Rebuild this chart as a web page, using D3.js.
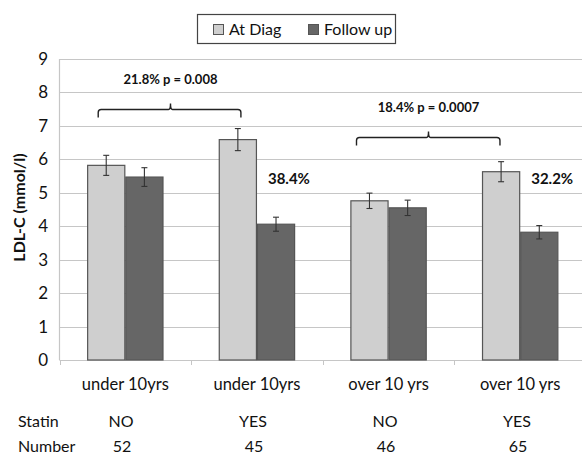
<!DOCTYPE html>
<html><head><meta charset="utf-8">
<script src="https://cdn.jsdelivr.net/npm/d3@7"></script>
<style>body{margin:0;background:#fff}svg{display:block;font-family:Lato,"Open Sans",sans-serif}</style>
</head><body>
<svg id="c" width="582" height="455"></svg>
<script>
const categories = ["under 10yrs","under 10yrs","over 10 yrs","over 10 yrs"];
const series = ["At Diag","Follow up"];
const atDiag = [5.82, 6.59, 4.76, 5.63];
const atDiagErr = [0.30, 0.33, 0.23, 0.30];
const followUp = [5.47, 4.06, 4.55, 3.82];
const followUpErr = [0.28, 0.21, 0.23, 0.20];
const statin = ["NO","YES","NO","YES"];
const numbers = ["52","45","46","65"];
const yTicks = [0,1,2,3,4,5,6,7,8,9];
const pctLabels = ["", "38.4%", "", "32.2%"];
const pctLevel = 5.3;
const brackets = [{from:0,to:1,level:7.5,text:"21.8% p = 0.008"},{from:2,to:3,level:6.66,text:"18.4% p = 0.0007"}];

const colors = ["#cfcfcf","#666666"];
const bracketInset = [[0.29,0.58],[0.16,0.47]];
const svg = d3.select("#c");
const pLeft = 59.5, pRight = 586, pTop = 59, pBottom = 360;
const x = d3.scaleBand().domain(d3.range(categories.length)).range([pLeft,pRight]).paddingInner(0.42).paddingOuter(0.21);
const xs = d3.scaleBand().domain(series).range([0,x.bandwidth()]);
const y = d3.scaleLinear().domain([0,9]).range([pBottom,pTop]);
const xc = d3.scaleBand().domain(d3.range(categories.length)).range([pLeft,pRight]);

svg.append("g").selectAll("line").data(yTicks.filter(d=>d>0)).join("line")
  .attr("x1",pLeft).attr("x2",582).attr("y1",d=>Math.round(y(d))+0.5).attr("y2",d=>Math.round(y(d))+0.5)
  .attr("stroke","#c6c6c6").attr("stroke-width",1.2);
svg.append("line").attr("x1",pLeft).attr("x2",pLeft).attr("y1",pTop).attr("y2",pBottom).attr("stroke","#c6c6c6").attr("stroke-width",1.2);
svg.append("line").attr("x1",pLeft).attr("x2",582).attr("y1",pBottom+0.5).attr("y2",pBottom+0.5).attr("stroke","#c6c6c6").attr("stroke-width",1.2);
svg.append("g").selectAll("line").data(d3.range(categories.length+1)).join("line")
  .attr("x1",d=>Math.round(pLeft+d*xc.bandwidth())+0.5).attr("x2",d=>Math.round(pLeft+d*xc.bandwidth())+0.5)
  .attr("y1",pBottom).attr("y2",pBottom+5).attr("stroke","#c6c6c6");
svg.append("g").selectAll("text").data(yTicks).join("text")
  .attr("x",48).attr("y",d=>y(d)+6).attr("text-anchor","end")
  .attr("font-size",17).attr("fill","#111").text(d=>d);
svg.append("text").attr("transform","translate(25,"+((pTop+pBottom)/2-2)+") rotate(-90)")
  .attr("text-anchor","middle").attr("font-size",16).attr("font-weight","bold").attr("fill","#111").text("LDL-C (mmol/l)");

const data = series.map((s,si)=>({s,si,vals:(si===0?atDiag:followUp),errs:(si===0?atDiagErr:followUpErr)}));
const g = svg.append("g");
data.forEach(ser=>{
  ser.vals.forEach((v,i)=>{
    const bx = x(i)+xs(ser.s);
    g.append("rect").attr("x",bx+0.5).attr("y",y(v)).attr("width",xs.bandwidth()-1).attr("height",y(0)-y(v))
      .attr("fill",colors[ser.si]).attr("stroke","#555").attr("stroke-width",1.2);
    const cx = bx+xs.bandwidth()/2, e = ser.errs[i];
    const eg = g.append("g").attr("stroke","#333").attr("stroke-width",1.1);
    eg.append("line").attr("x1",cx).attr("x2",cx).attr("y1",y(v+e)).attr("y2",y(v-e));
    eg.append("line").attr("x1",cx-3).attr("x2",cx+3).attr("y1",y(v+e)).attr("y2",y(v+e));
    eg.append("line").attr("x1",cx-3).attr("x2",cx+3).attr("y1",y(v-e)).attr("y2",y(v-e));
  });
});

svg.append("g").selectAll("text").data(pctLabels).join("text")
  .attr("x",(d,i)=>x(i)+xs("Follow up")+11).attr("y",y(pctLevel)+1)
  .attr("font-size",15).attr("font-weight","bold").attr("fill","#111").text(d=>d);

brackets.forEach((b,bi)=>{
  const x1 = x(b.from)+xs.bandwidth()*bracketInset[bi][0], x2 = x(b.to)+xs.bandwidth()*bracketInset[bi][1];
  const ly = Math.round(y(b.level))+0.5, mid=Math.round((x1+x2)/2)+0.5;
  svg.append("path").attr("d",`M${x1},${ly+8} L${x1},${ly+3} Q${x1},${ly} ${x1+3},${ly} L${mid-2},${ly} Q${mid},${ly} ${mid},${ly-6} Q${mid},${ly} ${mid+2},${ly} L${x2-3},${ly} Q${x2},${ly} ${x2},${ly+3} L${x2},${ly+8}`)
    .attr("fill","none").attr("stroke","#222").attr("stroke-width",1.4);
  svg.append("text").attr("x",mid).attr("y",ly-26).attr("text-anchor","middle")
    .attr("font-size",13).attr("font-weight","bold").attr("fill","#111").text(b.text);
});

svg.append("g").selectAll("text").data(categories).join("text")
  .attr("x",(d,i)=>xc(i)+xc.bandwidth()/2).attr("y",390).attr("text-anchor","middle")
  .attr("font-size",16.5).attr("fill","#111").text(d=>d);
const tx = d3.scalePoint().domain(d3.range(statin.length)).range([121,517]);
svg.append("text").attr("x",18).attr("y",427).attr("font-size",16).attr("fill","#111").text("Statin");
svg.append("text").attr("x",18).attr("y",452).attr("font-size",16).attr("fill","#111").text("Number");
svg.append("g").selectAll("text").data(statin).join("text")
  .attr("x",(d,i)=>tx(i)).attr("y",427).attr("text-anchor","middle").attr("font-size",16).attr("fill","#111").text(d=>d);
svg.append("g").selectAll("text").data(numbers).join("text")
  .attr("x",(d,i)=>tx(i)+1).attr("y",452).attr("text-anchor","middle").attr("font-size",16).attr("fill","#111").text(d=>d);

svg.append("rect").attr("x",197.5).attr("y",14.5).attr("width",198).attr("height",29).attr("fill","#fff").attr("stroke","#444").attr("stroke-width",1.2);
const lx = [213, 308], ltx=[229, 324];
series.forEach((s,i)=>{
  svg.append("rect").attr("x",lx[i]+0.5).attr("y",24.5).attr("width",10).attr("height",10).attr("fill",colors[i]).attr("stroke","#555");
  svg.append("text").attr("x",ltx[i]).attr("y",35).attr("font-size",16).attr("fill","#111").text(s);
});
</script>
</body></html>
